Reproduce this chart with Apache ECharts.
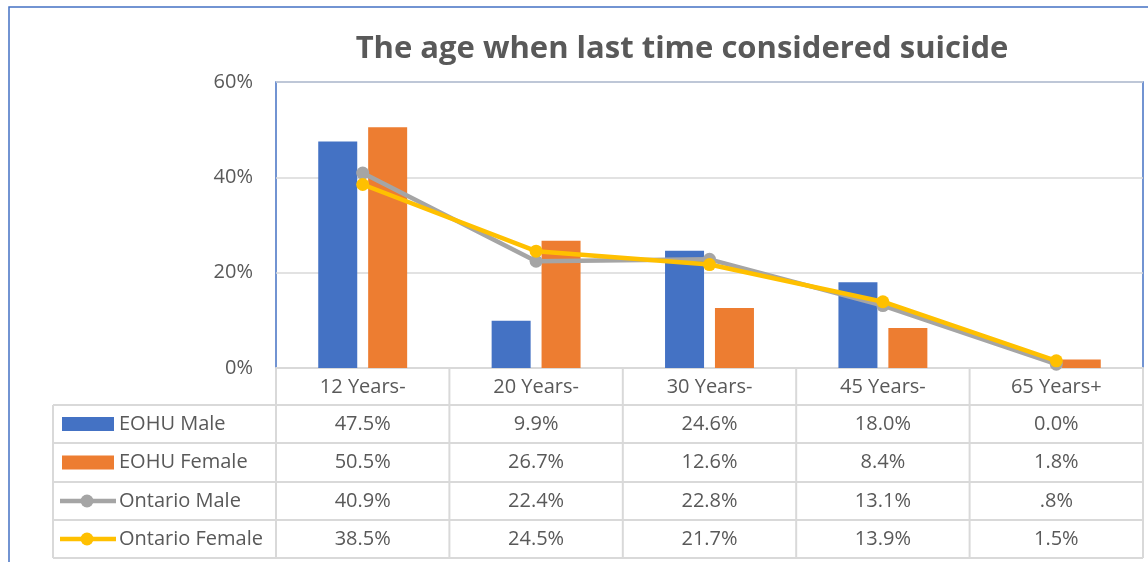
<!DOCTYPE html>
<html>
<head>
<meta charset="utf-8">
<script src="https://cdn.jsdelivr.net/npm/echarts@6/dist/echarts.min.js"></script>
<style>
  html, body { margin: 0; padding: 0; background: #fff; }
  #chart { width: 1148px; height: 562px; }
</style>
</head>
<body>
<div id="chart"></div>
<script>
const categories = ['12 Years-', '20 Years-', '30 Years-', '45 Years-', '65 Years+']
const eohuMale = [47.5, 9.9, 24.6, 18.0, 0.0]
const eohuFemale = [50.5, 26.7, 12.6, 8.4, 1.8]
const ontarioMale = [40.9, 22.4, 22.8, 13.1, 0.8]
const ontarioFemale = [38.5, 24.5, 21.7, 13.9, 1.5]
const yTicks = [0, 20, 40, 60]

const FONT = '"Open Sans", sans-serif'
const TEXT = '#595959'
const GRID_LINE = '#d9d9d9'
const BLUE = '#4472c4'
const ORANGE = '#ed7d31'
const GRAY = '#a5a5a5'
const YELLOW = '#ffc000'

// plot area in px
const plotLeft = 276
const plotTop = 82
const plotRight = 1143
const plotBottom = 368
const rowLines = [405, 443, 482, 520, 558]
const tableLeft = 53

// table rows: name, values, color, kind, drop leading zero
const rows = [
  { name: 'EOHU Male', data: eohuMale, color: BLUE, kind: 'bar', trim: false },
  { name: 'EOHU Female', data: eohuFemale, color: ORANGE, kind: 'bar', trim: false },
  { name: 'Ontario Male', data: ontarioMale, color: GRAY, kind: 'line', trim: true },
  { name: 'Ontario Female', data: ontarioFemale, color: YELLOW, kind: 'line', trim: true }
]

const fmt = (v, trim) => {
  let s = v.toFixed(1)
  if (trim && s.startsWith('0.') && v !== 0) s = s.slice(1)
  return s + '%'
}

const chart = echarts.init(document.getElementById('chart'))

const option = {
  animation: false,
  textStyle: { fontFamily: FONT },
  title: {
    text: 'The age when last time considered suicide',
    left: 677,
    top: 29,
    textAlign: 'center',
    textStyle: { fontFamily: FONT, fontSize: 31, fontWeight: 'bold', color: TEXT }
  },
  grid: {
    left: plotLeft,
    top: plotTop,
    width: plotRight - plotLeft,
    height: plotBottom - plotTop,
    show: true,
    borderColor: BLUE,
    borderWidth: 1.5,
    backgroundColor: 'transparent'
  },
  xAxis: {
    type: 'category',
    data: categories,
    axisLine: { show: true, lineStyle: { color: GRID_LINE, width: 2 } },
    axisTick: { show: false },
    axisLabel: { color: TEXT, fontSize: 20, fontFamily: FONT, margin: 19, verticalAlign: 'middle' }
  },
  yAxis: {
    type: 'value',
    min: yTicks[0],
    max: yTicks[yTicks.length - 1],
    interval: 20,
    axisLine: { show: false },
    axisTick: { show: false },
    splitLine: { lineStyle: { color: GRID_LINE, width: 1.5 } },
    axisLabel: { color: TEXT, fontSize: 20, fontFamily: FONT, margin: 23, formatter: '{value}%' }
  },
  series: [
    {
      name: rows[0].name, type: 'bar', data: eohuMale, barWidth: 39, barGap: '28%',
      itemStyle: { color: BLUE }
    },
    {
      name: rows[1].name, type: 'bar', data: eohuFemale, barWidth: 39, barGap: '28%',
      itemStyle: { color: ORANGE }
    },
    {
      name: rows[2].name, type: 'line', data: ontarioMale, symbol: 'circle', symbolSize: 13,
      lineStyle: { color: GRAY, width: 4.5 }, itemStyle: { color: GRAY }, z: 3
    },
    {
      name: rows[3].name, type: 'line', data: ontarioFemale, symbol: 'circle', symbolSize: 13,
      lineStyle: { color: YELLOW, width: 4.5 }, itemStyle: { color: YELLOW }, z: 4
    }
  ]
}

chart.setOption(option)

// data table under the plot, drawn with graphic elements
const graphic = []
const line = (x1, y1, x2, y2, color, w) => graphic.push({
  type: 'line', silent: true, z: 0,
  shape: { x1, y1, x2, y2 },
  style: { stroke: color, lineWidth: w }
})

// outer chart frame
graphic.push({
  type: 'rect', silent: true, z: -1,
  shape: { x: 9, y: 7, width: 1200, height: 600 },
  style: { fill: 'none', stroke: BLUE, lineWidth: 1.5 }
})

const bounds = [plotLeft]
for (let i = 0; i < categories.length; i++) {
  bounds.push(plotLeft + (plotRight - plotLeft) * (i + 1) / categories.length)
}
bounds.forEach(x => line(x, plotBottom, x, rowLines[rowLines.length - 1], GRID_LINE, 2))
line(tableLeft, rowLines[0], tableLeft, rowLines[rowLines.length - 1], GRID_LINE, 2)
rowLines.forEach(y => line(tableLeft, y, plotRight, y, GRID_LINE, 2))

rows.forEach((r, ri) => {
  const cy = (rowLines[ri] + rowLines[ri + 1]) / 2
  if (r.kind === 'bar') {
    graphic.push({
      type: 'rect', silent: true,
      shape: { x: 62, y: cy - 7, width: 52, height: 14 },
      style: { fill: r.color }
    })
  } else {
    line(60, cy, 116, cy, r.color, 4.5)
    graphic.push({
      type: 'circle', silent: true,
      shape: { cx: 87, cy, r: 6.5 },
      style: { fill: r.color }
    })
  }
  graphic.push({
    type: 'text', silent: true,
    style: {
      text: r.name, x: 119, y: cy, align: 'left', verticalAlign: 'middle',
      fill: TEXT, font: '20px ' + FONT
    }
  })
  r.data.forEach((v, ci) => {
    const cx = chart.convertToPixel({ xAxisIndex: 0 }, ci)
    graphic.push({
      type: 'text', silent: true,
      style: {
        text: fmt(v, r.trim), x: cx, y: cy, align: 'center', verticalAlign: 'middle',
        fill: TEXT, font: '20px ' + FONT
      }
    })
  })
})

chart.setOption({ graphic })
</script>
</body>
</html>
